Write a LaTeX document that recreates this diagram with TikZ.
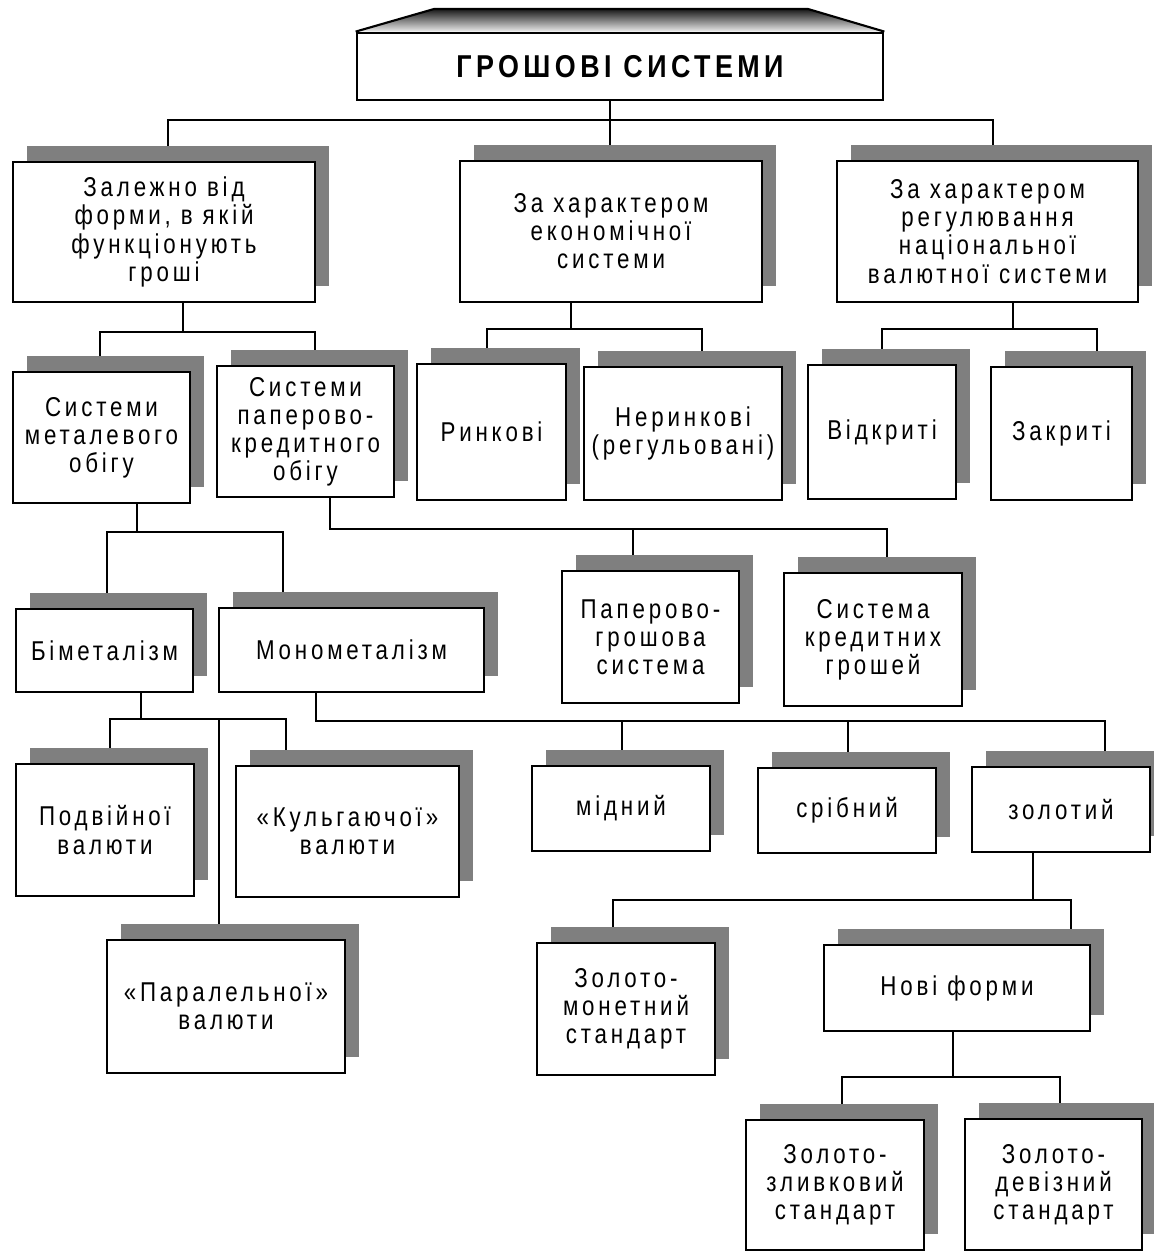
\documentclass[tikz,border=0pt]{standalone}
\usepackage{fontspec}
\setmainfont{Liberation Sans}[FakeStretch=0.82,LetterSpace=14]
\newfontfamily\titre{Liberation Sans}[FakeStretch=0.85,LetterSpace=14]
\usepackage{tikz}
\usetikzlibrary{shadows,backgrounds}
\definecolor{ombre}{HTML}{7F7F7F}

\begin{document}
\begin{tikzpicture}[x=0.02cm, y=-0.02cm,
  boite/.style={rectangle, draw, line width=1.6pt, fill=white, align=center, inner sep=0pt,
    font=\fontsize{15.5}{16}\selectfont,
    drop shadow={shadow xshift=0.28cm, shadow yshift=0.32cm, fill=ombre, opacity=1}},
  lien/.style={line width=1.6pt}]
  \useasboundingbox (0,0) rectangle (1153,1253);

  % titre
  \node (groshi) [rectangle, draw, line width=1.6pt, minimum width=10.52cm, minimum height=1.34cm] at (620,66.5) {\titre\bfseries\fontsize{18}{20}\selectfont ГРОШОВІ СИСТЕМИ};
  \shade[top color=black!90, bottom color=black!8] (groshi.north west) -- (434,9) -- (808,9) -- (groshi.north east) -- cycle;
  \draw[line width=1.2pt] (groshi.north west) -- (434,9) -- (808,9) -- (groshi.north east);

  % niveau 1
  \node (forma) [boite, minimum width=6.04cm, minimum height=2.8cm] at (164,232) {Залежно від\\форми, в якій\\функціонують\\гроші};
  \node (ekon) [boite, minimum width=6.04cm, minimum height=2.82cm] at (611,231.5) {За характером\\економічної\\системи};
  \node (regul) [boite, minimum width=6.02cm, minimum height=2.82cm] at (987.5,231.5) {За характером\\регулювання\\національної\\валютної системи};

  % niveau 2
  \node (metal) [boite, minimum width=3.54cm, minimum height=2.62cm] at (101.5,437.5) {Системи\\металевого\\обігу};
  \node (paper) [boite, minimum width=3.54cm, minimum height=2.62cm] at (305.5,431.5) {Системи\\паперово-\\кредитного\\обігу};
  \node (rynk) [boite, minimum width=2.98cm, minimum height=2.72cm] at (491.5,432) {Ринкові};
  \node (nerynk) [boite, minimum width=3.96cm, minimum height=2.66cm] at (683,433.5) {Неринкові\\(регульовані)};
  \node (vidkr) [boite, minimum width=2.96cm, minimum height=2.68cm] at (882,432) {Відкриті};
  \node (zakr) [boite, minimum width=2.82cm, minimum height=2.66cm] at (1061.5,433.5) {Закриті};

  % niveau 3
  \node (bimet) [boite, minimum width=3.54cm, minimum height=1.66cm] at (104.5,650.5) {Біметалізм};
  \node (monomet) [boite, minimum width=5.3cm, minimum height=1.68cm] at (351.5,650) {Монометалізм};
  \node (papgr) [boite, minimum width=3.54cm, minimum height=2.64cm] at (650.5,637) {Паперово-\\грошова\\система};
  \node (kredgr) [boite, minimum width=3.56cm, minimum height=2.66cm] at (873,639.5) {Система\\кредитних\\грошей};

  % niveau 4
  \node (podv) [boite, minimum width=3.56cm, minimum height=2.64cm] at (105,830) {Подвійної\\валюти};
  \node (kulg) [boite, minimum width=4.46cm, minimum height=2.62cm] at (347.5,831.5) {«Кульгаючої»\\валюти};
  \node (paral) [boite, minimum width=4.76cm, minimum height=2.66cm] at (226,1006.5) {«Паралельної»\\валюти};
  \node (midn) [boite, minimum width=3.56cm, minimum height=1.7cm] at (621,808.5) {мідний};
  \node (sribn) [boite, minimum width=3.56cm, minimum height=1.7cm] at (847,810.5) {срібний};
  \node (zolot) [boite, minimum width=3.56cm, minimum height=1.7cm] at (1061,809.5) {золотий};

  % niveau 5
  \node (zmon) [boite, minimum width=3.56cm, minimum height=2.64cm] at (626,1009) {Золото-\\монетний\\стандарт};
  \node (novi) [boite, minimum width=5.32cm, minimum height=1.72cm] at (957,988) {Нові форми};
  \node (zliv) [boite, minimum width=3.56cm, minimum height=2.6cm] at (835,1185) {Золото-\\зливковий\\стандарт};
  \node (deviz) [boite, minimum width=3.54cm, minimum height=2.62cm] at (1053.5,1184.5) {Золото-\\девізний\\стандарт};

  % liens
  \begin{scope}[on background layer={lien}]
    \draw (groshi.south -| 610,0) -- (610,120);
    \draw (forma.north -| 168,0) |- (993,120) -- (regul.north -| 993,0);
    \draw (ekon.north -| 610,0) -- (610,120);

    \draw (forma.south -| 183,0) -- (183,332);
    \draw (metal.north -| 100,0) |- (315,332) -- (paper.north -| 315,0);
    \draw (ekon.south -| 571,0) -- (571,329);
    \draw (rynk.north -| 487,0) |- (702,329) -- (nerynk.north -| 702,0);
    \draw (regul.south -| 1013,0) -- (1013,329);
    \draw (vidkr.north -| 882,0) |- (1097,329) -- (zakr.north -| 1097,0);

    \draw (metal.south -| 137,0) -- (137,532);
    \draw (bimet.north -| 107,0) |- (283,532) -- (monomet.north -| 283,0);
    \draw (paper.south -| 330,0) |- (887,529) -- (kredgr.north -| 887,0);
    \draw (papgr.north -| 633,0) -- (633,529);

    \draw (bimet.south -| 141,0) -- (141,719);
    \draw (podv.north -| 110,0) |- (286,719) -- (kulg.north -| 286,0);
    \draw (219,719) -- (paral.north -| 219,0);
    \draw (monomet.south -| 316,0) |- (1105,721) -- (zolot.north -| 1105,0);
    \draw (midn.north -| 622,0) -- (622,721);
    \draw (sribn.north -| 848,0) -- (848,721);

    \draw (zolot.south -| 1033,0) -- (1033,900);
    \draw (zmon.north -| 613,0) |- (1071,900) -- (novi.north -| 1071,0);
    \draw (novi.south -| 953,0) -- (953,1077);
    \draw (zliv.north -| 842,0) |- (1060,1077) -- (deviz.north -| 1060,0);
  \end{scope}
\end{tikzpicture}
\end{document}
